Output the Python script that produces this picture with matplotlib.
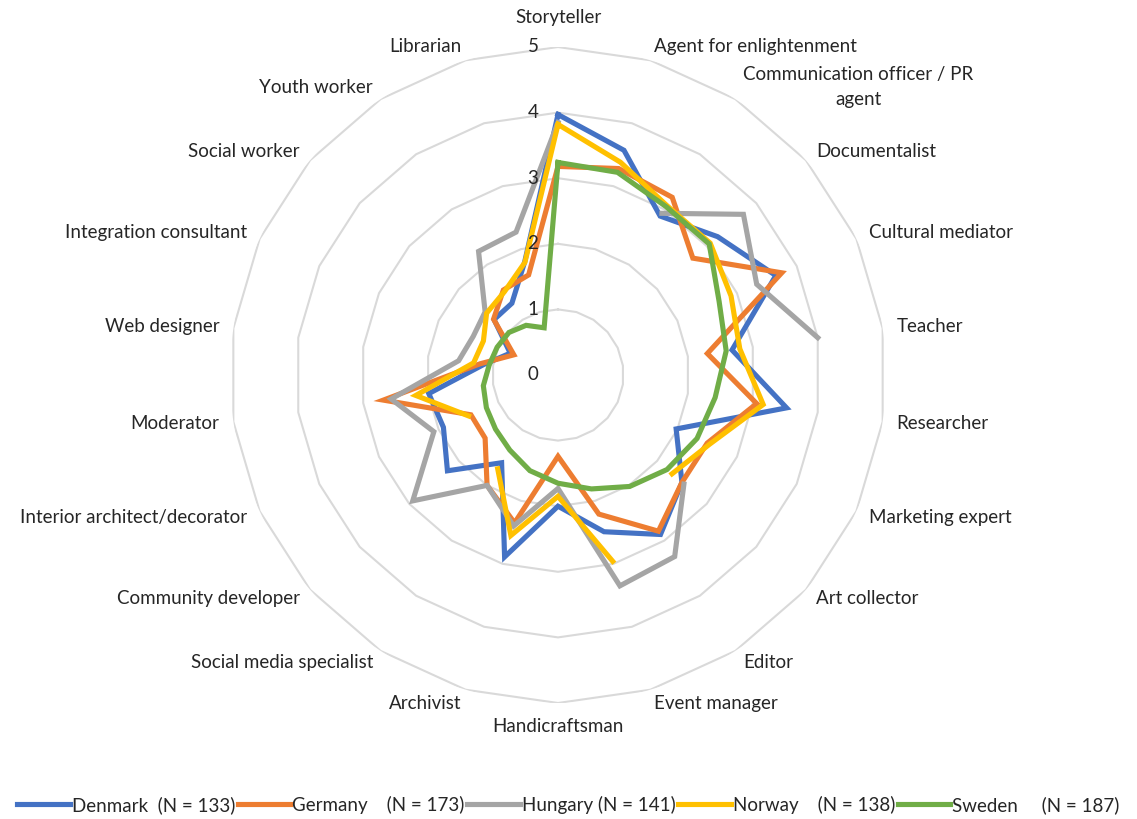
import numpy as np
import matplotlib
matplotlib.use('Agg')
from matplotlib import pyplot as plt

plt.rcParams['font.family'] = ['Lato', 'DejaVu Sans']

# categories (clockwise from the top)
categories = ['Storyteller', 'Agent for enlightenment', 'Communication officer / PR\nagent',
              'Documentalist', 'Cultural mediator', 'Teacher', 'Researcher', 'Marketing expert',
              'Art collector', 'Editor', 'Event manager', 'Handicraftsman', 'Archivist',
              'Social media specialist', 'Community developer', 'Interior architect/decorator',
              'Moderator', 'Web designer', 'Integration consultant', 'Social worker',
              'Youth worker', 'Librarian']

nan = np.nan
denmark = [3.97, 3.57, 2.88, 3.22, 3.65, 2.68, 3.52, 1.98, 2.50, 2.89, 2.49,
           2.00, 2.89, 1.59, 2.23, 1.92, 1.99, 1.14, 0.80, 1.29, 1.30, 1.80]
germany = [3.18, 3.28, 3.22, 2.72, 3.75, 2.30, 3.06, 2.50, 2.50, 2.83, 2.21,
           1.24, 2.35, 2.00, 1.47, 1.46, 2.69, 1.20, 0.74, 1.30, 1.54, 1.59]
hungary = [3.85, nan, 2.93, 3.74, 3.33, 4.00, nan, nan, 2.54, 3.29, 3.35,
           1.73, 2.40, 2.00, 2.93, 2.08, 2.57, 1.53, 1.42, 1.47, 2.24, 2.27]
norway = [3.82, 3.38, 3.07, 3.07, 2.90, 2.80, 3.16, 2.54, 2.30, nan, 2.96,
          1.85, 2.55, 1.70, nan, 1.50, 2.19, 1.30, 1.25, 1.44, 1.51, 1.79]
sweden = [3.24, 3.22, 3.05, 3.05, 2.70, 2.59, 2.42, 2.33, 2.20, 2.02, 1.81,
          1.65, 1.52, 1.36, 1.26, 1.20, 1.15, 1.06, 1.02, 0.99, 0.90, 0.75]

series_labels = ['Denmark  (N = 133)', 'Germany    (N = 173)', 'Hungary (N = 141)',
                 'Norway    (N = 138)', 'Sweden     (N = 187)']
colors = ['#4472C4', '#ED7D31', '#A5A5A5', '#FFC000', '#70AD47']
rings = [1, 2, 3, 4, 5]

W, H = 1137, 819
cx, cy, R = 558, 375, 328
fs = 13.5
fig = plt.figure(figsize=(W / 100, H / 100), dpi=100)
ax = fig.add_axes([(cx - R) / W, (H - cy - R) / H, 2 * R / W, 2 * R / H], projection='polar')
ax.set_theta_zero_location('N')
ax.set_theta_direction(-1)
ax.set_ylim(0, 5)
ax.grid(False)
ax.set_xticks([])
ax.set_yticks([])
ax.spines['polar'].set_visible(False)

n = len(categories)
theta = np.arange(n) * 2 * np.pi / n
theta_c = np.append(theta, theta[0])

# polygon gridlines
for r in rings:
    ax.plot(theta_c, [r] * (n + 1), color='#D9D9D9', lw=1.5, zorder=1)

for vals, c, lab in zip([denmark, germany, hungary, norway, sweden], colors, series_labels):
    v = np.append(vals, vals[0])
    ax.plot(theta_c, v, color=c, lw=3.7, label=lab, zorder=3, solid_joinstyle='miter')

# radial value labels
for r in [0] + rings:
    ax.annotate(str(r), xy=(0, r), xytext=(-25, 0), textcoords='offset pixels',
                ha='center', va='center', fontsize=fs, color='#262626', zorder=5)

# category labels
for i, (t, lab) in enumerate(zip(theta, categories)):
    s, c = np.sin(t), np.cos(t)
    off = 14
    if abs(s) < 0.01:
        ha = 'center'
        off = 29 if c > 0 else 24
    elif s > 0:
        ha = 'left'
    else:
        ha = 'right'
    dy = off * c
    if i == 2:
        dy = 12
    ax.annotate(lab, xy=(t, 5), xytext=(off * s, dy), textcoords='offset pixels',
                ha=ha, va='center', multialignment='center', linespacing=1.55,
                fontsize=fs, color='#262626')

fig.legend(loc='center', bbox_to_anchor=(0.5, 14 / H), ncol=5, frameon=False,
           fontsize=fs, handlelength=2.8, handletextpad=0.1, columnspacing=0.15,
           labelcolor='#262626', borderpad=0.1, borderaxespad=0.1)

fig.savefig('out.png', dpi=100)
